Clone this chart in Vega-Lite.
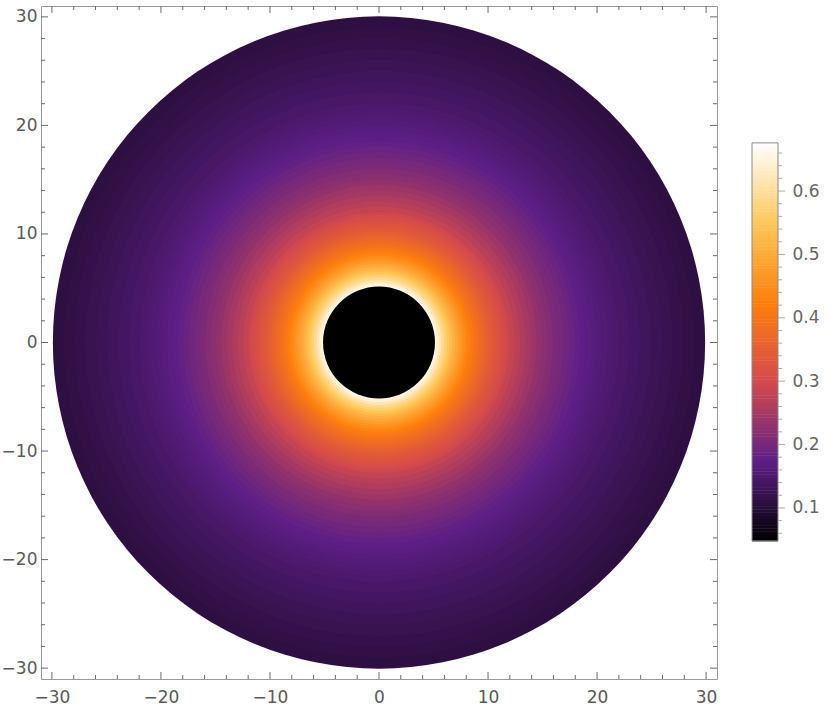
{
  "$schema": "https://vega.github.io/schema/vega-lite/v6.json",
  "padding": {"left": 0, "top": 5, "right": 0, "bottom": 0},
  "spacing": 33,
  "background": "white",
  "config": {
    "view": {"stroke": null},
    "axis": {"labelFont": "DejaVu Sans", "labelFontSize": 17, "labelColor": "#5a5a5a", "grid": false, "title": null}
  },
  "datasets": {
    "rings": [
      {"r":30,"v":0.110},{"r":29,"v":0.114},{"r":28,"v":0.118},{"r":27,"v":0.123},{"r":26,"v":0.128},{"r":25,"v":0.133},{"r":24,"v":0.139},{"r":23,"v":0.145},{"r":22,"v":0.150},{"r":21.5,"v":0.154},{"r":21,"v":0.157},{"r":20.5,"v":0.161},{"r":20,"v":0.165},{"r":19.5,"v":0.169},{"r":19,"v":0.174},{"r":18.5,"v":0.180},{"r":18,"v":0.186},{"r":17.5,"v":0.193},{"r":17,"v":0.200},{"r":16.5,"v":0.207},{"r":16,"v":0.214},{"r":15.5,"v":0.221},{"r":15,"v":0.230},{"r":14.5,"v":0.240},{"r":14,"v":0.250},{"r":13.5,"v":0.260},{"r":13,"v":0.271},{"r":12.5,"v":0.283},{"r":12,"v":0.293},{"r":11.75,"v":0.301},{"r":11.5,"v":0.308},{"r":11.25,"v":0.316},{"r":11,"v":0.323},{"r":10.75,"v":0.331},{"r":10.5,"v":0.338},{"r":10.25,"v":0.346},{"r":10,"v":0.355},{"r":9.75,"v":0.365},{"r":9.5,"v":0.375},{"r":9.25,"v":0.385},{"r":9,"v":0.395},{"r":8.75,"v":0.405},{"r":8.5,"v":0.418},{"r":8.25,"v":0.432},{"r":8,"v":0.447},{"r":7.75,"v":0.462},{"r":7.5,"v":0.477},{"r":7.25,"v":0.492},{"r":7,"v":0.510},{"r":6.75,"v":0.530},{"r":6.5,"v":0.550},{"r":6.25,"v":0.570},{"r":6,"v":0.592},{"r":5.75,"v":0.617},{"r":5.5,"v":0.642},{"r":5.25,"v":0.667},{"r":5.15,"v":0.048}
    ],
    "corners": [{"x":0,"y":0}],
    "maj": [{"t":-30},{"t":-20},{"t":-10},{"t":0},{"t":10},{"t":20},{"t":30}],
    "min": [{"t":-28},{"t":-26},{"t":-24},{"t":-22},{"t":-18},{"t":-16},{"t":-14},{"t":-12},{"t":-8},{"t":-6},{"t":-4},{"t":-2},{"t":2},{"t":4},{"t":6},{"t":8},{"t":12},{"t":14},{"t":16},{"t":18},{"t":22},{"t":24},{"t":26},{"t":28}],
    "cmaj": [{"t":0.1},{"t":0.2},{"t":0.3},{"t":0.4},{"t":0.5},{"t":0.6}],
    "cmin": [{"t":0.06},{"t":0.08},{"t":0.12},{"t":0.14},{"t":0.16},{"t":0.18},{"t":0.22},{"t":0.24},{"t":0.26},{"t":0.28},{"t":0.32},{"t":0.34},{"t":0.36},{"t":0.38},{"t":0.42},{"t":0.44},{"t":0.46},{"t":0.48},{"t":0.52},{"t":0.54},{"t":0.56},{"t":0.58},{"t":0.62},{"t":0.64},{"t":0.66}],
    "bar": [
      {"c":0.050},{"c":0.055},{"c":0.060},{"c":0.065},{"c":0.070},{"c":0.075},{"c":0.080},{"c":0.085},{"c":0.090},{"c":0.095},
      {"c":0.100},{"c":0.105},{"c":0.110},{"c":0.115},{"c":0.120},{"c":0.125},{"c":0.130},{"c":0.135},{"c":0.140},{"c":0.145},
      {"c":0.150},{"c":0.155},{"c":0.160},{"c":0.165},{"c":0.170},{"c":0.175},{"c":0.180},{"c":0.185},{"c":0.190},{"c":0.195},
      {"c":0.200},{"c":0.205},{"c":0.210},{"c":0.215},{"c":0.220},{"c":0.225},{"c":0.230},{"c":0.235},{"c":0.240},{"c":0.245},
      {"c":0.250},{"c":0.255},{"c":0.260},{"c":0.265},{"c":0.270},{"c":0.275},{"c":0.280},{"c":0.285},{"c":0.290},{"c":0.295},
      {"c":0.300},{"c":0.305},{"c":0.310},{"c":0.315},{"c":0.320},{"c":0.325},{"c":0.330},{"c":0.335},{"c":0.340},{"c":0.345},
      {"c":0.350},{"c":0.355},{"c":0.360},{"c":0.365},{"c":0.370},{"c":0.375},{"c":0.380},{"c":0.385},{"c":0.390},{"c":0.395},
      {"c":0.400},{"c":0.405},{"c":0.410},{"c":0.415},{"c":0.420},{"c":0.425},{"c":0.430},{"c":0.435},{"c":0.440},{"c":0.445},
      {"c":0.450},{"c":0.455},{"c":0.460},{"c":0.465},{"c":0.470},{"c":0.475},{"c":0.480},{"c":0.485},{"c":0.490},{"c":0.495},
      {"c":0.500},{"c":0.505},{"c":0.510},{"c":0.515},{"c":0.520},{"c":0.525},{"c":0.530},{"c":0.535},{"c":0.540},{"c":0.545},
      {"c":0.550},{"c":0.555},{"c":0.560},{"c":0.565},{"c":0.570},{"c":0.575},{"c":0.580},{"c":0.585},{"c":0.590},{"c":0.595},
      {"c":0.600},{"c":0.605},{"c":0.610},{"c":0.615},{"c":0.620},{"c":0.625},{"c":0.630},{"c":0.635},{"c":0.640},{"c":0.645},
      {"c":0.650},{"c":0.655},{"c":0.660},{"c":0.665},{"c":0.670},{"c":0.675}
    ],
    "barframe": [{"lo":0.048,"hi":0.676}]
  },
  "hconcat": [
    {
      "width": 676,
      "height": 673,
      "view": {"stroke": "#9a9a9a", "strokeWidth": 1},
      "layer": [
        {
          "data": {"name": "rings"},
          "mark": {"type": "point", "shape": "circle", "filled": true, "opacity": 1, "strokeWidth": 0},
          "encoding": {
            "x": {"datum": 0, "type": "quantitative"},
            "y": {"datum": 0, "type": "quantitative"},
            "size": {"field": "r", "type": "quantitative", "legend": null, "scale": {"type": "pow", "exponent": 2, "domain": [0, 31], "range": [0, 454276], "zero": true}},
            "color": {"field": "v", "type": "quantitative", "legend": null,
              "scale": {"domain": [0.048, 0.1736, 0.2992, 0.4248, 0.5504, 0.676], "range": ["#000000", "#5d1f86", "#d34a4c", "#ff7f0c", "#fdc85a", "#ffffff"], "interpolate": "rgb"}}
          }
        },
        {
          "data": {"name": "corners"},
          "mark": {"type": "point", "opacity": 0, "size": 1, "strokeWidth": 0},
          "encoding": {
            "x": {"field": "x", "type": "quantitative", "scale": {"domain": [-31, 31], "nice": false, "zero": false},
              "axis": {"values": [-30,-20,-10,0,10,20,30], "ticks": false, "domain": false, "labelFlush": false, "labelOverlap": false, "labelPadding": 10}},
            "y": {"field": "y", "type": "quantitative", "scale": {"domain": [-31, 31], "nice": false, "zero": false},
              "axis": {"values": [-30,-20,-10,0,10,20,30], "ticks": false, "domain": false, "labelFlush": false, "labelOverlap": false, "labelPadding": 4}}
          }
        },
        {
          "data": {"name": "maj"},
          "mark": {"type": "tick", "orient": "vertical", "size": 7, "thickness": 1, "color": "#6a6a6a", "opacity": 1, "yOffset": -3.5},
          "encoding": {"x": {"field": "t", "type": "quantitative"}, "y": {"datum": -31, "type": "quantitative"}}
        },
        {
          "data": {"name": "min"},
          "mark": {"type": "tick", "orient": "vertical", "size": 4, "thickness": 1, "color": "#6a6a6a", "opacity": 1, "yOffset": -2},
          "encoding": {"x": {"field": "t", "type": "quantitative"}, "y": {"datum": -31, "type": "quantitative"}}
        },
        {
          "data": {"name": "maj"},
          "mark": {"type": "tick", "orient": "vertical", "size": 7, "thickness": 1, "color": "#6a6a6a", "opacity": 1, "yOffset": 3.5},
          "encoding": {"x": {"field": "t", "type": "quantitative"}, "y": {"datum": 31, "type": "quantitative"}}
        },
        {
          "data": {"name": "min"},
          "mark": {"type": "tick", "orient": "vertical", "size": 4, "thickness": 1, "color": "#6a6a6a", "opacity": 1, "yOffset": 2},
          "encoding": {"x": {"field": "t", "type": "quantitative"}, "y": {"datum": 31, "type": "quantitative"}}
        },
        {
          "data": {"name": "maj"},
          "mark": {"type": "tick", "orient": "horizontal", "size": 7, "thickness": 1, "color": "#6a6a6a", "opacity": 1, "xOffset": 3.5},
          "encoding": {"y": {"field": "t", "type": "quantitative"}, "x": {"datum": -31, "type": "quantitative"}}
        },
        {
          "data": {"name": "min"},
          "mark": {"type": "tick", "orient": "horizontal", "size": 4, "thickness": 1, "color": "#6a6a6a", "opacity": 1, "xOffset": 2},
          "encoding": {"y": {"field": "t", "type": "quantitative"}, "x": {"datum": -31, "type": "quantitative"}}
        },
        {
          "data": {"name": "maj"},
          "mark": {"type": "tick", "orient": "horizontal", "size": 7, "thickness": 1, "color": "#6a6a6a", "opacity": 1, "xOffset": -3.5},
          "encoding": {"y": {"field": "t", "type": "quantitative"}, "x": {"datum": 31, "type": "quantitative"}}
        },
        {
          "data": {"name": "min"},
          "mark": {"type": "tick", "orient": "horizontal", "size": 4, "thickness": 1, "color": "#6a6a6a", "opacity": 1, "xOffset": -2},
          "encoding": {"y": {"field": "t", "type": "quantitative"}, "x": {"datum": 31, "type": "quantitative"}}
        }
      ]
    },
    {
      "width": 26,
      "height": 673,
      "view": {"stroke": null},
      "layer": [
        {
          "data": {"name": "bar"},
          "mark": {"type": "tick", "orient": "horizontal", "thickness": 3.6, "size": 26, "opacity": 1},
          "encoding": {
            "x": {"datum": 0.5, "type": "quantitative", "scale": {"domain": [0, 1]}, "axis": null},
            "y": {"field": "c", "type": "quantitative", "scale": {"domain": [-0.170, 0.892], "nice": false, "zero": false},
              "axis": {"orient": "right", "domain": false, "ticks": false, "values": [0.1, 0.2, 0.3, 0.4, 0.5, 0.6], "format": ".1f",
                "labelOverlap": false, "labelFlush": false, "labelPadding": 14, "labelColor": "#666666"}},
            "color": {"field": "c", "type": "quantitative", "legend": null,
              "scale": {"domain": [0.048, 0.1736, 0.2992, 0.4248, 0.5504, 0.676], "range": ["#000000", "#5d1f86", "#d34a4c", "#ff7f0c", "#fdc85a", "#ffffff"], "interpolate": "rgb"}}
          }
        },
        {
          "data": {"name": "barframe"},
          "mark": {"type": "rect", "filled": false, "stroke": "#8a8a8a", "strokeWidth": 1},
          "encoding": {
            "x": {"datum": 0, "type": "quantitative"}, "x2": {"datum": 1},
            "y": {"field": "lo", "type": "quantitative"},
            "y2": {"field": "hi"}
          }
        },
        {
          "data": {"name": "cmaj"},
          "mark": {"type": "tick", "orient": "horizontal", "size": 7, "thickness": 1, "color": "#aaaaaa", "opacity": 1, "xOffset": 3.5},
          "encoding": {"x": {"datum": 1, "type": "quantitative"}, "y": {"field": "t", "type": "quantitative"}}
        },
        {
          "data": {"name": "cmin"},
          "mark": {"type": "tick", "orient": "horizontal", "size": 4, "thickness": 1, "color": "#aaaaaa", "opacity": 1, "xOffset": 2},
          "encoding": {"x": {"datum": 1, "type": "quantitative"}, "y": {"field": "t", "type": "quantitative"}}
        }
      ]
    }
  ]
}
